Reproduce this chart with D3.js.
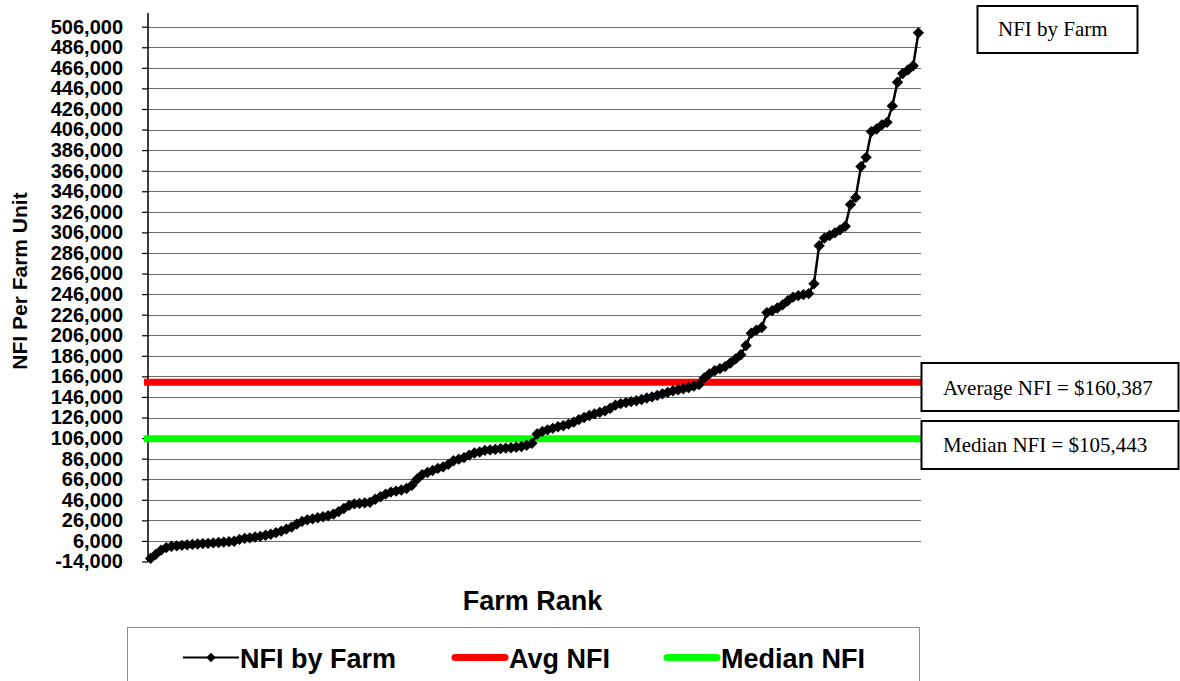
<!DOCTYPE html>
<html>
<head>
<meta charset="utf-8">
<script src="https://cdn.jsdelivr.net/npm/d3@7/dist/d3.min.js"></script>
<style>
  html, body { margin: 0; padding: 0; background: #fff; }
  svg { display: block; }
</style>
</head>
<body>
<svg id="chart" width="1180" height="681"></svg>
<script>
// Net farm income per farm unit, farms sorted from lowest to highest
const nfiByFarm = [
  -11000, -7000, -3000, -500, 800, 1200, 1700, 2200, 2600, 3000,
  3400, 3700, 4100, 4500, 4900, 5300, 5700, 7500, 8500, 9000,
  9800, 10500, 11500, 12500, 14000, 15500, 17500, 19500, 22500, 25000,
  26500, 27500, 28500, 29500, 30500, 32000, 34500, 37500, 40500, 42000,
  42500, 43000, 43500, 46500, 49000, 51500, 53500, 54500, 55500, 57000,
  60000, 66000, 70500, 72500, 74500, 76500, 78000, 80500, 84000, 85500,
  87000, 89500, 91500, 92500, 94000, 94500, 95000, 95700, 96200, 96600,
  97100, 97800, 99000, 100900, 109986, 112500, 114000, 115500, 117000, 118000,
  119500, 121500, 124000, 126000, 128000, 129500, 131000, 132500, 135000, 138000,
  139500, 140500, 141500, 142300, 143500, 145000, 146000, 147500, 149000, 150500,
  152000, 153000, 154000, 155000, 156500, 158000, 164500, 168500, 171500, 173500,
  175500, 179000, 183000, 187000, 196000, 208000, 211000, 213500, 228000, 230000,
  232500, 235500, 239500, 243000, 244500, 245500, 246500, 256000, 293000, 300500,
  303000, 305500, 308500, 312000, 333000, 340000, 370000, 379000, 404000, 406500,
  410500, 413000, 429000, 452000, 460500, 464000, 468000, 500000
];
const farmRank = nfiByFarm.map((_, i) => i + 1);

const avgNFI = 160387;
const medianNFI = 105443;

const yTickValues = [
  -14000, 6000, 26000, 46000, 66000, 86000, 106000, 126000, 146000, 166000,
  186000, 206000, 226000, 246000, 266000, 286000, 306000, 326000, 346000, 366000,
  386000, 406000, 426000, 446000, 466000, 486000, 506000
];

const yTitle = "NFI Per Farm Unit";
const xTitle = "Farm Rank";
const chartTitle = "NFI by Farm";
const legendLabels = ["NFI by Farm", "Avg NFI", "Median NFI"];

const locale = d3.formatLocale({ decimal: ".", thousands: ",", grouping: [3], currency: ["$", ""], minus: "-" });
const fmt = locale.format(",");
const money = locale.format("$,");

const svg = d3.select("#chart");
const plot = { left: 148, right: 921, top: 13, bottom: 561.5 };

const x = d3.scalePoint()
  .domain(farmRank)
  .range([plot.left, plot.right])
  .padding(0.5);

const y = d3.scaleLinear()
  .domain([-14000, 506000])
  .range([561.5, 26.7]);

const sans = "'Liberation Sans', Arial, sans-serif";
const serif = "'Liberation Serif', 'Times New Roman', serif";

// horizontal gridlines
svg.append("g")
  .selectAll("line")
  .data(yTickValues.filter(v => v > -14000))
  .join("line")
  .attr("x1", plot.left)
  .attr("x2", plot.right)
  .attr("y1", d => Math.round(y(d)) + 0.5)
  .attr("y2", d => Math.round(y(d)) + 0.5)
  .attr("stroke", "#6e6e6e")
  .attr("stroke-width", 1);

// value axis
const yAxis = d3.axisLeft(y)
  .tickValues(yTickValues)
  .tickFormat(fmt)
  .tickSize(6)
  .tickPadding(19);

const gy = svg.append("g")
  .attr("transform", `translate(${plot.left},0)`)
  .call(yAxis);
gy.select(".domain").remove();
gy.selectAll(".tick line").attr("stroke", "#000").attr("stroke-width", 1.2);
gy.selectAll(".tick text")
  .attr("fill", "#000")
  .style("font-family", sans)
  .style("font-size", "20px")
  .style("font-weight", "bold");

svg.append("line")
  .attr("x1", plot.left).attr("x2", plot.left)
  .attr("y1", plot.top).attr("y2", 562)
  .attr("stroke", "#000").attr("stroke-width", 1.5);

// average and median reference lines
const refLines = [
  { value: avgNFI, color: "#ff0000" },
  { value: medianNFI, color: "#00ff00" }
];
svg.append("g")
  .selectAll("line")
  .data(refLines)
  .join("line")
  .attr("x1", plot.left - 4)
  .attr("x2", plot.right)
  .attr("y1", d => y(d.value))
  .attr("y2", d => y(d.value))
  .attr("stroke", d => d.color)
  .attr("stroke-width", 7);

// farm series
const line = d3.line()
  .x((d, i) => x(farmRank[i]))
  .y(d => y(d));

svg.append("path")
  .datum(nfiByFarm)
  .attr("d", line)
  .attr("fill", "none")
  .attr("stroke", "#000")
  .attr("stroke-width", 2.5);

const diamond = d3.symbol().type(d3.symbolDiamond2).size(82);
svg.append("g")
  .selectAll("path")
  .data(nfiByFarm)
  .join("path")
  .attr("d", diamond)
  .attr("transform", (d, i) => `translate(${x(farmRank[i])},${y(d)})`)
  .attr("fill", "#000");

// axis titles
svg.append("text")
  .attr("transform", "translate(26.5,281) rotate(-90)")
  .attr("text-anchor", "middle")
  .style("font-family", sans)
  .style("font-size", "21px")
  .style("font-weight", "bold")
  .text(yTitle);

svg.append("text")
  .attr("x", (plot.left + plot.right) / 2 - 2)
  .attr("y", 610)
  .attr("text-anchor", "middle")
  .style("font-family", sans)
  .style("font-size", "27px")
  .style("font-weight", "bold")
  .text(xTitle);

// boxed labels
function boxLabel(bx, by, bw, bh, tx, ty, text) {
  svg.append("rect")
    .attr("x", bx).attr("y", by).attr("width", bw).attr("height", bh)
    .attr("fill", "#fff").attr("stroke", "#000").attr("stroke-width", 2);
  svg.append("text")
    .attr("x", tx).attr("y", ty)
    .style("font-family", serif)
    .style("font-size", "21px")
    .attr("fill", "#000")
    .text(text);
}
boxLabel(977.5, 6, 160, 47, 998, 36, chartTitle);
boxLabel(921.5, 363, 257, 48, 943, 394.5, "Average NFI = " + money(avgNFI));
boxLabel(921.5, 421, 257, 48, 943, 452, "Median NFI = " + money(medianNFI));

// legend
const legend = svg.append("g");
legend.append("rect")
  .attr("x", 127.5).attr("y", 627.5).attr("width", 792).attr("height", 70)
  .attr("fill", "#fff").attr("stroke", "#8c8c8c").attr("stroke-width", 1);

const legendItems = [
  { label: legendLabels[0], x: 183, color: "#000", width: 2, marker: true },
  { label: legendLabels[1], x: 452, color: "#ff0000", width: 7, marker: false },
  { label: legendLabels[2], x: 664, color: "#00ff00", width: 7, marker: false }
];
const legendDiamond = d3.symbol().type(d3.symbolDiamond2).size(58);
const ly = 657.5;
legendItems.forEach(it => {
  legend.append("line")
    .attr("x1", it.x + (it.marker ? 0 : 3)).attr("x2", it.x + (it.marker ? 56 : 53))
    .attr("y1", ly).attr("y2", ly)
    .attr("stroke", it.color).attr("stroke-width", it.width)
    .attr("stroke-linecap", it.marker ? "butt" : "round");
  if (it.marker) {
    legend.append("path")
      .attr("d", legendDiamond)
      .attr("transform", `translate(${it.x + 28},${ly})`)
      .attr("fill", "#000");
  }
  legend.append("text")
    .attr("x", it.x + 57)
    .attr("y", ly + 10)
    .style("font-family", sans)
    .style("font-size", "27px")
    .style("font-weight", "bold")
    .text(it.label);
});
</script>
</body>
</html>
